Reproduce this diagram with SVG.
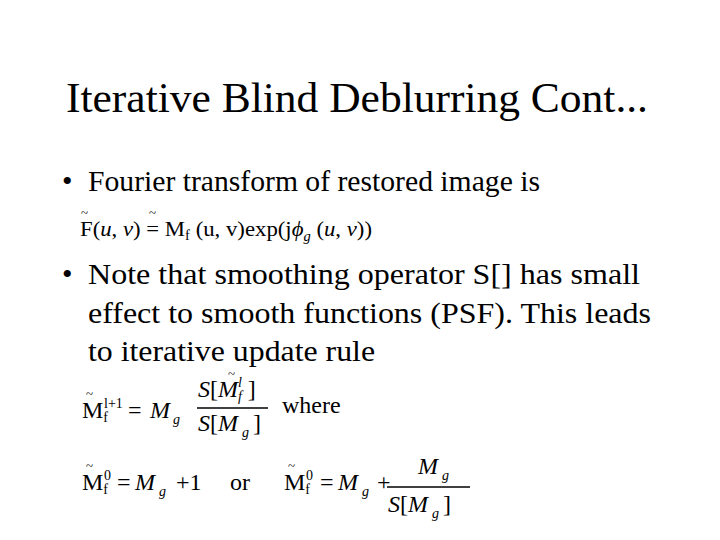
<svg xmlns="http://www.w3.org/2000/svg" width="720" height="540" viewBox="0 0 720 540">
<style>
text{font-family:"Liberation Serif","Times New Roman",serif;fill:#000}
.t{font-size:42px}
.b{font-size:30px}
.m{font-size:24px}
.s{font-size:22px}
.i{font-style:italic}
.sub{font-size:14px}
.tl{font-size:13px}
</style>
<rect width="720" height="540" fill="#fff"/>
<g id="title"><text class="t" x="66" y="112" textLength="582" lengthAdjust="spacingAndGlyphs">Iterative Blind Deblurring Cont...</text></g>
<g id="bullet1">
<text class="b" x="62" y="191">•</text>
<text class="b" x="88" y="191" textLength="452" lengthAdjust="spacingAndGlyphs">Fourier transform of restored image is</text>
</g>
<g id="eq1">
<text class="s" x="80" y="236" textLength="292" lengthAdjust="spacingAndGlyphs">F(<tspan class="i">u</tspan>, <tspan class="i">v</tspan>) = M<tspan class="sub" dy="4">f</tspan><tspan dy="-4"> (u, v)exp(j</tspan><tspan class="i">ϕ</tspan><tspan class="sub i" dy="5">g</tspan><tspan dy="-5"> (</tspan><tspan class="i">u</tspan>, <tspan class="i">v</tspan>))</text>
<text class="tl" x="81" y="217">~</text>
<text class="tl" x="149" y="217">~</text>
</g>
<g id="bullet2">
<text class="b" x="62" y="284">•</text>
<text class="b" x="88" y="284" textLength="552" lengthAdjust="spacingAndGlyphs">Note that smoothing operator S[] has small</text>
<text class="b" x="88" y="323" textLength="563" lengthAdjust="spacingAndGlyphs">effect to smooth functions (PSF). This leads</text>
<text class="b" x="88" y="361" textLength="287" lengthAdjust="spacingAndGlyphs">to iterative update rule</text>
</g>
<g id="eq2">
<text class="m" x="82" y="418">M<tspan class="sub" dy="4">f</tspan><tspan class="sub" dx="-4" dy="-14">l+1</tspan></text>
<text class="tl" x="86" y="398">~</text>
<text class="m" x="128" y="418">=</text>
<text class="m i" x="150" y="418">M<tspan class="sub" dx="3" dy="6">g</tspan></text>
<text class="m" x="198" y="397"><tspan class="i">S</tspan>[<tspan class="i">M</tspan><tspan class="sub i" dy="4">f</tspan><tspan class="sub i" dx="-4" dy="-14">l</tspan><tspan dx="6" dy="10">]</tspan></text>
<text class="tl" x="228" y="378">~</text>
<line x1="197" y1="408" x2="268" y2="408" stroke="#000" stroke-width="1.3"/>
<text class="m" x="198" y="431"><tspan class="i">S</tspan>[<tspan class="i">M</tspan><tspan class="sub i" dx="4" dy="6">g</tspan><tspan dx="4" dy="-6">]</tspan></text>
<text class="m" x="282" y="413">where</text>
</g>
<g id="eq3">
<text class="m" x="82" y="490">M<tspan class="sub" dy="4">f</tspan><tspan class="sub" dx="-4" dy="-14">0</tspan></text>
<text class="tl" x="86" y="470">~</text>
<text class="m" x="117" y="490">=</text>
<text class="m" x="135" y="490"><tspan class="i">M</tspan><tspan class="sub i" dx="4" dy="6">g</tspan><tspan dx="10" dy="-6">+1</tspan></text>
<text class="m" x="230" y="490">or</text>
<text class="m" x="284" y="490">M<tspan class="sub" dy="4">f</tspan><tspan class="sub" dx="-4" dy="-14">0</tspan></text>
<text class="tl" x="288" y="470">~</text>
<text class="m" x="320" y="490">=</text>
<text class="m" x="338" y="490"><tspan class="i">M</tspan><tspan class="sub i" dx="4" dy="6">g</tspan><tspan dx="8" dy="-6">+</tspan></text>
<text class="m i" x="418" y="474">M<tspan class="sub" dx="4" dy="6">g</tspan></text>
<line x1="387" y1="487" x2="470" y2="487" stroke="#000" stroke-width="1.3"/>
<text class="m" x="388" y="512"><tspan class="i">S</tspan>[<tspan class="i">M</tspan><tspan class="sub i" dx="4" dy="6">g</tspan><tspan dx="4" dy="-6">]</tspan></text>
</g>
</svg>
